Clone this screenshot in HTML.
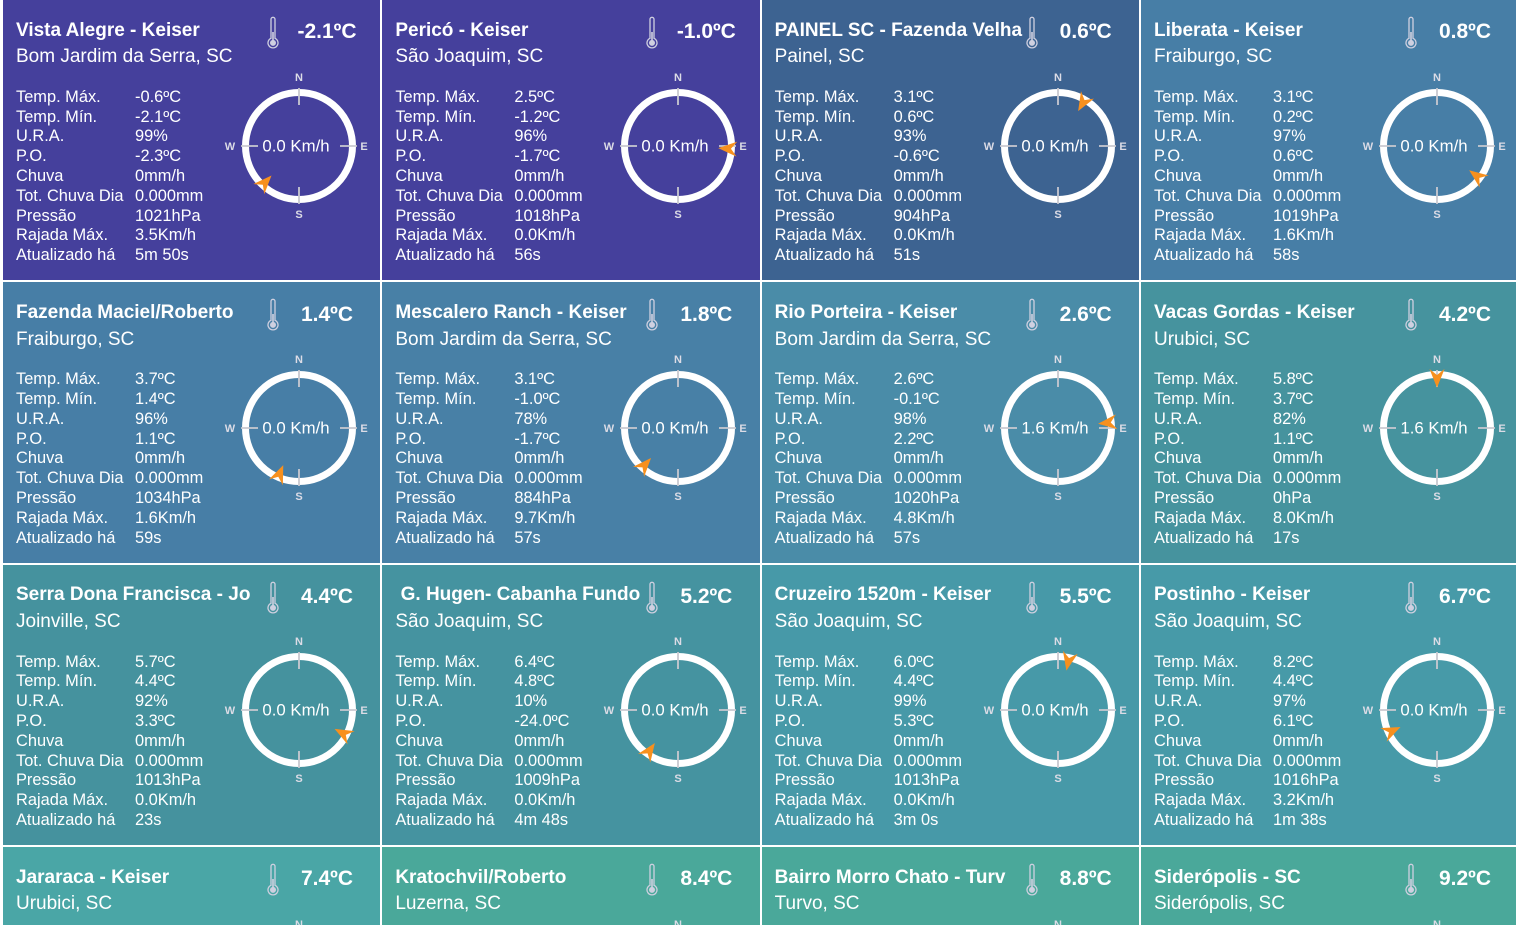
<!DOCTYPE html>
<html><head><meta charset="utf-8"><style>
html,body{margin:0;padding:0;width:1516px;height:926px;overflow:hidden;background:#fff;position:relative;}
.card{position:absolute;width:377.33px;height:280.33px;overflow:hidden;color:#fff;font-family:"Liberation Sans",Arial,sans-serif;}
.r4{height:78px;}
.t{position:absolute;left:13px;top:20.6px;font-size:19px;line-height:19px;font-weight:bold;white-space:nowrap;}
.l{position:absolute;left:13px;top:47.2px;font-size:19px;line-height:19px;white-space:nowrap;}
.tp{position:absolute;left:274px;width:100px;text-align:center;top:21.2px;font-size:21px;line-height:21px;font-weight:bold;white-space:nowrap;}
.th{position:absolute;left:262px;top:14px;}
.cp{position:absolute;left:216px;top:65.5px;font-family:"Liberation Sans",Arial,sans-serif;}
.d{position:absolute;left:13px;top:87.9px;font-size:16.4px;line-height:19.8px;}
.d div{position:relative;height:19.8px;white-space:nowrap;width:200px;}
.d span+span{position:absolute;left:119px;top:0;}
</style></head><body>

<!-- Row 1 -->
<div class="card" style="left:3px;top:0px;background:#45409c">
<div class="t">Vista Alegre - Keiser</div><div class="l">Bom Jardim da Serra, SC</div>
<svg class="th" width="16" height="36" viewBox="0 0 16 36"><path d="M6,24.3V5.3A2,2 0 0 1 10,5.3V24.3A5,5 0 1 1 6,24.3Z" fill="none" stroke="#cfd0e0" stroke-width="1.3"/><circle cx="8" cy="28.9" r="3" fill="#cfd0e0"/><rect x="7.2" y="18" width="1.6" height="10" fill="#cfd0e0"/></svg>
<div class="tp">-2.1ºC</div>
<div class="d"><div><span>Temp. Máx.</span><span>-0.6ºC</span></div><div><span>Temp. Mín.</span><span>-2.1ºC</span></div><div><span>U.R.A.</span><span>99%</span></div><div><span>P.O.</span><span>-2.3ºC</span></div><div><span>Chuva</span><span>0mm/h</span></div><div><span>Tot. Chuva Dia</span><span>0.000mm</span></div><div><span>Pressão</span><span>1021hPa</span></div><div><span>Rajada Máx.</span><span>3.5Km/h</span></div><div><span>Atualizado há</span><span>5m 50s</span></div></div>
<svg class="cp" width="160" height="160" viewBox="0 0 160 160"><circle cx="80" cy="80" r="53.5" fill="none" stroke="#fff" stroke-width="7"/><path d="M80 22V39M80 121V138M22 80H39M121 80H138" stroke="#c9c9d0" stroke-width="1.8"/><path d="M0,-12.7L7.5,6L0,0L-7.5,6Z" fill="#f7901e" transform="rotate(223 80 80) translate(80 27) rotate(180)"/><g font-size="11" font-weight="bold" fill="#dcdce6" text-anchor="middle"><text x="80" y="15.2">N</text><text x="80" y="151.8">S</text><text x="11" y="84.2">W</text><text x="145" y="84.2">E</text></g><text x="77" y="85.5" font-size="16.8" fill="#fff" text-anchor="middle">0.0 Km/h</text></svg>
</div>

<div class="card" style="left:382.33px;top:0px;background:#45409c">
<div class="t">Pericó - Keiser</div><div class="l">São Joaquim, SC</div>
<svg class="th" width="16" height="36" viewBox="0 0 16 36"><path d="M6,24.3V5.3A2,2 0 0 1 10,5.3V24.3A5,5 0 1 1 6,24.3Z" fill="none" stroke="#cfd0e0" stroke-width="1.3"/><circle cx="8" cy="28.9" r="3" fill="#cfd0e0"/><rect x="7.2" y="18" width="1.6" height="10" fill="#cfd0e0"/></svg>
<div class="tp">-1.0ºC</div>
<div class="d"><div><span>Temp. Máx.</span><span>2.5ºC</span></div><div><span>Temp. Mín.</span><span>-1.2ºC</span></div><div><span>U.R.A.</span><span>96%</span></div><div><span>P.O.</span><span>-1.7ºC</span></div><div><span>Chuva</span><span>0mm/h</span></div><div><span>Tot. Chuva Dia</span><span>0.000mm</span></div><div><span>Pressão</span><span>1018hPa</span></div><div><span>Rajada Máx.</span><span>0.0Km/h</span></div><div><span>Atualizado há</span><span>56s</span></div></div>
<svg class="cp" width="160" height="160" viewBox="0 0 160 160"><circle cx="80" cy="80" r="53.5" fill="none" stroke="#fff" stroke-width="7"/><path d="M80 22V39M80 121V138M22 80H39M121 80H138" stroke="#c9c9d0" stroke-width="1.8"/><path d="M0,-12.7L7.5,6L0,0L-7.5,6Z" fill="#f7901e" transform="rotate(93 80 80) translate(80 27) rotate(180)"/><g font-size="11" font-weight="bold" fill="#dcdce6" text-anchor="middle"><text x="80" y="15.2">N</text><text x="80" y="151.8">S</text><text x="11" y="84.2">W</text><text x="145" y="84.2">E</text></g><text x="77" y="85.5" font-size="16.8" fill="#fff" text-anchor="middle">0.0 Km/h</text></svg>
</div>

<div class="card" style="left:761.67px;top:0px;background:#3d6391">
<div class="t">PAINEL SC - Fazenda Velha</div><div class="l">Painel, SC</div>
<svg class="th" width="16" height="36" viewBox="0 0 16 36"><path d="M6,24.3V5.3A2,2 0 0 1 10,5.3V24.3A5,5 0 1 1 6,24.3Z" fill="none" stroke="#cfd0e0" stroke-width="1.3"/><circle cx="8" cy="28.9" r="3" fill="#cfd0e0"/><rect x="7.2" y="18" width="1.6" height="10" fill="#cfd0e0"/></svg>
<div class="tp">0.6ºC</div>
<div class="d"><div><span>Temp. Máx.</span><span>3.1ºC</span></div><div><span>Temp. Mín.</span><span>0.6ºC</span></div><div><span>U.R.A.</span><span>93%</span></div><div><span>P.O.</span><span>-0.6ºC</span></div><div><span>Chuva</span><span>0mm/h</span></div><div><span>Tot. Chuva Dia</span><span>0.000mm</span></div><div><span>Pressão</span><span>904hPa</span></div><div><span>Rajada Máx.</span><span>0.0Km/h</span></div><div><span>Atualizado há</span><span>51s</span></div></div>
<svg class="cp" width="160" height="160" viewBox="0 0 160 160"><circle cx="80" cy="80" r="53.5" fill="none" stroke="#fff" stroke-width="7"/><path d="M80 22V39M80 121V138M22 80H39M121 80H138" stroke="#c9c9d0" stroke-width="1.8"/><path d="M0,-12.7L7.5,6L0,0L-7.5,6Z" fill="#f7901e" transform="rotate(30 80 80) translate(80 27) rotate(180)"/><g font-size="11" font-weight="bold" fill="#dcdce6" text-anchor="middle"><text x="80" y="15.2">N</text><text x="80" y="151.8">S</text><text x="11" y="84.2">W</text><text x="145" y="84.2">E</text></g><text x="77" y="85.5" font-size="16.8" fill="#fff" text-anchor="middle">0.0 Km/h</text></svg>
</div>

<div class="card" style="left:1141px;top:0px;background:#477ea6">
<div class="t">Liberata - Keiser</div><div class="l">Fraiburgo, SC</div>
<svg class="th" width="16" height="36" viewBox="0 0 16 36"><path d="M6,24.3V5.3A2,2 0 0 1 10,5.3V24.3A5,5 0 1 1 6,24.3Z" fill="none" stroke="#cfd0e0" stroke-width="1.3"/><circle cx="8" cy="28.9" r="3" fill="#cfd0e0"/><rect x="7.2" y="18" width="1.6" height="10" fill="#cfd0e0"/></svg>
<div class="tp">0.8ºC</div>
<div class="d"><div><span>Temp. Máx.</span><span>3.1ºC</span></div><div><span>Temp. Mín.</span><span>0.2ºC</span></div><div><span>U.R.A.</span><span>97%</span></div><div><span>P.O.</span><span>0.6ºC</span></div><div><span>Chuva</span><span>0mm/h</span></div><div><span>Tot. Chuva Dia</span><span>0.000mm</span></div><div><span>Pressão</span><span>1019hPa</span></div><div><span>Rajada Máx.</span><span>1.6Km/h</span></div><div><span>Atualizado há</span><span>58s</span></div></div>
<svg class="cp" width="160" height="160" viewBox="0 0 160 160"><circle cx="80" cy="80" r="53.5" fill="none" stroke="#fff" stroke-width="7"/><path d="M80 22V39M80 121V138M22 80H39M121 80H138" stroke="#c9c9d0" stroke-width="1.8"/><path d="M0,-12.7L7.5,6L0,0L-7.5,6Z" fill="#f7901e" transform="rotate(127 80 80) translate(80 27) rotate(180)"/><g font-size="11" font-weight="bold" fill="#dcdce6" text-anchor="middle"><text x="80" y="15.2">N</text><text x="80" y="151.8">S</text><text x="11" y="84.2">W</text><text x="145" y="84.2">E</text></g><text x="77" y="85.5" font-size="16.8" fill="#fff" text-anchor="middle">0.0 Km/h</text></svg>
</div>

<!-- Row 2 -->
<div class="card" style="left:3px;top:282.33px;background:#477ea6">
<div class="t">Fazenda Maciel/Roberto</div><div class="l">Fraiburgo, SC</div>
<svg class="th" width="16" height="36" viewBox="0 0 16 36"><path d="M6,24.3V5.3A2,2 0 0 1 10,5.3V24.3A5,5 0 1 1 6,24.3Z" fill="none" stroke="#cfd0e0" stroke-width="1.3"/><circle cx="8" cy="28.9" r="3" fill="#cfd0e0"/><rect x="7.2" y="18" width="1.6" height="10" fill="#cfd0e0"/></svg>
<div class="tp">1.4ºC</div>
<div class="d"><div><span>Temp. Máx.</span><span>3.7ºC</span></div><div><span>Temp. Mín.</span><span>1.4ºC</span></div><div><span>U.R.A.</span><span>96%</span></div><div><span>P.O.</span><span>1.1ºC</span></div><div><span>Chuva</span><span>0mm/h</span></div><div><span>Tot. Chuva Dia</span><span>0.000mm</span></div><div><span>Pressão</span><span>1034hPa</span></div><div><span>Rajada Máx.</span><span>1.6Km/h</span></div><div><span>Atualizado há</span><span>59s</span></div></div>
<svg class="cp" width="160" height="160" viewBox="0 0 160 160"><circle cx="80" cy="80" r="53.5" fill="none" stroke="#fff" stroke-width="7"/><path d="M80 22V39M80 121V138M22 80H39M121 80H138" stroke="#c9c9d0" stroke-width="1.8"/><path d="M0,-12.7L7.5,6L0,0L-7.5,6Z" fill="#f7901e" transform="rotate(203 80 80) translate(80 27) rotate(180)"/><g font-size="11" font-weight="bold" fill="#dcdce6" text-anchor="middle"><text x="80" y="15.2">N</text><text x="80" y="151.8">S</text><text x="11" y="84.2">W</text><text x="145" y="84.2">E</text></g><text x="77" y="85.5" font-size="16.8" fill="#fff" text-anchor="middle">0.0 Km/h</text></svg>
</div>

<div class="card" style="left:382.33px;top:282.33px;background:#4880a6">
<div class="t">Mescalero Ranch - Keiser</div><div class="l">Bom Jardim da Serra, SC</div>
<svg class="th" width="16" height="36" viewBox="0 0 16 36"><path d="M6,24.3V5.3A2,2 0 0 1 10,5.3V24.3A5,5 0 1 1 6,24.3Z" fill="none" stroke="#cfd0e0" stroke-width="1.3"/><circle cx="8" cy="28.9" r="3" fill="#cfd0e0"/><rect x="7.2" y="18" width="1.6" height="10" fill="#cfd0e0"/></svg>
<div class="tp">1.8ºC</div>
<div class="d"><div><span>Temp. Máx.</span><span>3.1ºC</span></div><div><span>Temp. Mín.</span><span>-1.0ºC</span></div><div><span>U.R.A.</span><span>78%</span></div><div><span>P.O.</span><span>-1.7ºC</span></div><div><span>Chuva</span><span>0mm/h</span></div><div><span>Tot. Chuva Dia</span><span>0.000mm</span></div><div><span>Pressão</span><span>884hPa</span></div><div><span>Rajada Máx.</span><span>9.7Km/h</span></div><div><span>Atualizado há</span><span>57s</span></div></div>
<svg class="cp" width="160" height="160" viewBox="0 0 160 160"><circle cx="80" cy="80" r="53.5" fill="none" stroke="#fff" stroke-width="7"/><path d="M80 22V39M80 121V138M22 80H39M121 80H138" stroke="#c9c9d0" stroke-width="1.8"/><path d="M0,-12.7L7.5,6L0,0L-7.5,6Z" fill="#f7901e" transform="rotate(222 80 80) translate(80 27) rotate(180)"/><g font-size="11" font-weight="bold" fill="#dcdce6" text-anchor="middle"><text x="80" y="15.2">N</text><text x="80" y="151.8">S</text><text x="11" y="84.2">W</text><text x="145" y="84.2">E</text></g><text x="77" y="85.5" font-size="16.8" fill="#fff" text-anchor="middle">0.0 Km/h</text></svg>
</div>

<div class="card" style="left:761.67px;top:282.33px;background:#4a8ca8">
<div class="t">Rio Porteira - Keiser</div><div class="l">Bom Jardim da Serra, SC</div>
<svg class="th" width="16" height="36" viewBox="0 0 16 36"><path d="M6,24.3V5.3A2,2 0 0 1 10,5.3V24.3A5,5 0 1 1 6,24.3Z" fill="none" stroke="#cfd0e0" stroke-width="1.3"/><circle cx="8" cy="28.9" r="3" fill="#cfd0e0"/><rect x="7.2" y="18" width="1.6" height="10" fill="#cfd0e0"/></svg>
<div class="tp">2.6ºC</div>
<div class="d"><div><span>Temp. Máx.</span><span>2.6ºC</span></div><div><span>Temp. Mín.</span><span>-0.1ºC</span></div><div><span>U.R.A.</span><span>98%</span></div><div><span>P.O.</span><span>2.2ºC</span></div><div><span>Chuva</span><span>0mm/h</span></div><div><span>Tot. Chuva Dia</span><span>0.000mm</span></div><div><span>Pressão</span><span>1020hPa</span></div><div><span>Rajada Máx.</span><span>4.8Km/h</span></div><div><span>Atualizado há</span><span>57s</span></div></div>
<svg class="cp" width="160" height="160" viewBox="0 0 160 160"><circle cx="80" cy="80" r="53.5" fill="none" stroke="#fff" stroke-width="7"/><path d="M80 22V39M80 121V138M22 80H39M121 80H138" stroke="#c9c9d0" stroke-width="1.8"/><path d="M0,-12.7L7.5,6L0,0L-7.5,6Z" fill="#f7901e" transform="rotate(84 80 80) translate(80 27) rotate(180)"/><g font-size="11" font-weight="bold" fill="#dcdce6" text-anchor="middle"><text x="80" y="15.2">N</text><text x="80" y="151.8">S</text><text x="11" y="84.2">W</text><text x="145" y="84.2">E</text></g><text x="77" y="85.5" font-size="16.8" fill="#fff" text-anchor="middle">1.6 Km/h</text></svg>
</div>

<div class="card" style="left:1141px;top:282.33px;background:#46939e">
<div class="t">Vacas Gordas - Keiser</div><div class="l">Urubici, SC</div>
<svg class="th" width="16" height="36" viewBox="0 0 16 36"><path d="M6,24.3V5.3A2,2 0 0 1 10,5.3V24.3A5,5 0 1 1 6,24.3Z" fill="none" stroke="#cfd0e0" stroke-width="1.3"/><circle cx="8" cy="28.9" r="3" fill="#cfd0e0"/><rect x="7.2" y="18" width="1.6" height="10" fill="#cfd0e0"/></svg>
<div class="tp">4.2ºC</div>
<div class="d"><div><span>Temp. Máx.</span><span>5.8ºC</span></div><div><span>Temp. Mín.</span><span>3.7ºC</span></div><div><span>U.R.A.</span><span>82%</span></div><div><span>P.O.</span><span>1.1ºC</span></div><div><span>Chuva</span><span>0mm/h</span></div><div><span>Tot. Chuva Dia</span><span>0.000mm</span></div><div><span>Pressão</span><span>0hPa</span></div><div><span>Rajada Máx.</span><span>8.0Km/h</span></div><div><span>Atualizado há</span><span>17s</span></div></div>
<svg class="cp" width="160" height="160" viewBox="0 0 160 160"><circle cx="80" cy="80" r="53.5" fill="none" stroke="#fff" stroke-width="7"/><path d="M80 22V39M80 121V138M22 80H39M121 80H138" stroke="#c9c9d0" stroke-width="1.8"/><path d="M0,-12.7L7.5,6L0,0L-7.5,6Z" fill="#f7901e" transform="rotate(0 80 80) translate(80 27) rotate(180)"/><g font-size="11" font-weight="bold" fill="#dcdce6" text-anchor="middle"><text x="80" y="15.2">N</text><text x="80" y="151.8">S</text><text x="11" y="84.2">W</text><text x="145" y="84.2">E</text></g><text x="77" y="85.5" font-size="16.8" fill="#fff" text-anchor="middle">1.6 Km/h</text></svg>
</div>

<!-- Row 3 -->
<div class="card" style="left:3px;top:564.67px;background:#45929e">
<div class="t">Serra Dona Francisca - Jo</div><div class="l">Joinville, SC</div>
<svg class="th" width="16" height="36" viewBox="0 0 16 36"><path d="M6,24.3V5.3A2,2 0 0 1 10,5.3V24.3A5,5 0 1 1 6,24.3Z" fill="none" stroke="#cfd0e0" stroke-width="1.3"/><circle cx="8" cy="28.9" r="3" fill="#cfd0e0"/><rect x="7.2" y="18" width="1.6" height="10" fill="#cfd0e0"/></svg>
<div class="tp">4.4ºC</div>
<div class="d"><div><span>Temp. Máx.</span><span>5.7ºC</span></div><div><span>Temp. Mín.</span><span>4.4ºC</span></div><div><span>U.R.A.</span><span>92%</span></div><div><span>P.O.</span><span>3.3ºC</span></div><div><span>Chuva</span><span>0mm/h</span></div><div><span>Tot. Chuva Dia</span><span>0.000mm</span></div><div><span>Pressão</span><span>1013hPa</span></div><div><span>Rajada Máx.</span><span>0.0Km/h</span></div><div><span>Atualizado há</span><span>23s</span></div></div>
<svg class="cp" width="160" height="160" viewBox="0 0 160 160"><circle cx="80" cy="80" r="53.5" fill="none" stroke="#fff" stroke-width="7"/><path d="M80 22V39M80 121V138M22 80H39M121 80H138" stroke="#c9c9d0" stroke-width="1.8"/><path d="M0,-12.7L7.5,6L0,0L-7.5,6Z" fill="#f7901e" transform="rotate(118 80 80) translate(80 27) rotate(180)"/><g font-size="11" font-weight="bold" fill="#dcdce6" text-anchor="middle"><text x="80" y="15.2">N</text><text x="80" y="151.8">S</text><text x="11" y="84.2">W</text><text x="145" y="84.2">E</text></g><text x="77" y="85.5" font-size="16.8" fill="#fff" text-anchor="middle">0.0 Km/h</text></svg>
</div>

<div class="card" style="left:382.33px;top:564.67px;background:#4593a0">
<div class="t">&nbsp;G. Hugen- Cabanha Fundo</div><div class="l">São Joaquim, SC</div>
<svg class="th" width="16" height="36" viewBox="0 0 16 36"><path d="M6,24.3V5.3A2,2 0 0 1 10,5.3V24.3A5,5 0 1 1 6,24.3Z" fill="none" stroke="#cfd0e0" stroke-width="1.3"/><circle cx="8" cy="28.9" r="3" fill="#cfd0e0"/><rect x="7.2" y="18" width="1.6" height="10" fill="#cfd0e0"/></svg>
<div class="tp">5.2ºC</div>
<div class="d"><div><span>Temp. Máx.</span><span>6.4ºC</span></div><div><span>Temp. Mín.</span><span>4.8ºC</span></div><div><span>U.R.A.</span><span>10%</span></div><div><span>P.O.</span><span>-24.0ºC</span></div><div><span>Chuva</span><span>0mm/h</span></div><div><span>Tot. Chuva Dia</span><span>0.000mm</span></div><div><span>Pressão</span><span>1009hPa</span></div><div><span>Rajada Máx.</span><span>0.0Km/h</span></div><div><span>Atualizado há</span><span>4m 48s</span></div></div>
<svg class="cp" width="160" height="160" viewBox="0 0 160 160"><circle cx="80" cy="80" r="53.5" fill="none" stroke="#fff" stroke-width="7"/><path d="M80 22V39M80 121V138M22 80H39M121 80H138" stroke="#c9c9d0" stroke-width="1.8"/><path d="M0,-12.7L7.5,6L0,0L-7.5,6Z" fill="#f7901e" transform="rotate(215 80 80) translate(80 27) rotate(180)"/><g font-size="11" font-weight="bold" fill="#dcdce6" text-anchor="middle"><text x="80" y="15.2">N</text><text x="80" y="151.8">S</text><text x="11" y="84.2">W</text><text x="145" y="84.2">E</text></g><text x="77" y="85.5" font-size="16.8" fill="#fff" text-anchor="middle">0.0 Km/h</text></svg>
</div>

<div class="card" style="left:761.67px;top:564.67px;background:#4799a8">
<div class="t">Cruzeiro 1520m - Keiser</div><div class="l">São Joaquim, SC</div>
<svg class="th" width="16" height="36" viewBox="0 0 16 36"><path d="M6,24.3V5.3A2,2 0 0 1 10,5.3V24.3A5,5 0 1 1 6,24.3Z" fill="none" stroke="#cfd0e0" stroke-width="1.3"/><circle cx="8" cy="28.9" r="3" fill="#cfd0e0"/><rect x="7.2" y="18" width="1.6" height="10" fill="#cfd0e0"/></svg>
<div class="tp">5.5ºC</div>
<div class="d"><div><span>Temp. Máx.</span><span>6.0ºC</span></div><div><span>Temp. Mín.</span><span>4.4ºC</span></div><div><span>U.R.A.</span><span>99%</span></div><div><span>P.O.</span><span>5.3ºC</span></div><div><span>Chuva</span><span>0mm/h</span></div><div><span>Tot. Chuva Dia</span><span>0.000mm</span></div><div><span>Pressão</span><span>1013hPa</span></div><div><span>Rajada Máx.</span><span>0.0Km/h</span></div><div><span>Atualizado há</span><span>3m 0s</span></div></div>
<svg class="cp" width="160" height="160" viewBox="0 0 160 160"><circle cx="80" cy="80" r="53.5" fill="none" stroke="#fff" stroke-width="7"/><path d="M80 22V39M80 121V138M22 80H39M121 80H138" stroke="#c9c9d0" stroke-width="1.8"/><path d="M0,-12.7L7.5,6L0,0L-7.5,6Z" fill="#f7901e" transform="rotate(12 80 80) translate(80 27) rotate(180)"/><g font-size="11" font-weight="bold" fill="#dcdce6" text-anchor="middle"><text x="80" y="15.2">N</text><text x="80" y="151.8">S</text><text x="11" y="84.2">W</text><text x="145" y="84.2">E</text></g><text x="77" y="85.5" font-size="16.8" fill="#fff" text-anchor="middle">0.0 Km/h</text></svg>
</div>

<div class="card" style="left:1141px;top:564.67px;background:#479aa8">
<div class="t">Postinho - Keiser</div><div class="l">São Joaquim, SC</div>
<svg class="th" width="16" height="36" viewBox="0 0 16 36"><path d="M6,24.3V5.3A2,2 0 0 1 10,5.3V24.3A5,5 0 1 1 6,24.3Z" fill="none" stroke="#cfd0e0" stroke-width="1.3"/><circle cx="8" cy="28.9" r="3" fill="#cfd0e0"/><rect x="7.2" y="18" width="1.6" height="10" fill="#cfd0e0"/></svg>
<div class="tp">6.7ºC</div>
<div class="d"><div><span>Temp. Máx.</span><span>8.2ºC</span></div><div><span>Temp. Mín.</span><span>4.4ºC</span></div><div><span>U.R.A.</span><span>97%</span></div><div><span>P.O.</span><span>6.1ºC</span></div><div><span>Chuva</span><span>0mm/h</span></div><div><span>Tot. Chuva Dia</span><span>0.000mm</span></div><div><span>Pressão</span><span>1016hPa</span></div><div><span>Rajada Máx.</span><span>3.2Km/h</span></div><div><span>Atualizado há</span><span>1m 38s</span></div></div>
<svg class="cp" width="160" height="160" viewBox="0 0 160 160"><circle cx="80" cy="80" r="53.5" fill="none" stroke="#fff" stroke-width="7"/><path d="M80 22V39M80 121V138M22 80H39M121 80H138" stroke="#c9c9d0" stroke-width="1.8"/><path d="M0,-12.7L7.5,6L0,0L-7.5,6Z" fill="#f7901e" transform="rotate(245 80 80) translate(80 27) rotate(180)"/><g font-size="11" font-weight="bold" fill="#dcdce6" text-anchor="middle"><text x="80" y="15.2">N</text><text x="80" y="151.8">S</text><text x="11" y="84.2">W</text><text x="145" y="84.2">E</text></g><text x="77" y="85.5" font-size="16.8" fill="#fff" text-anchor="middle">0.0 Km/h</text></svg>
</div>

<!-- Row 4 -->
<div class="card r4" style="left:3px;top:847px;background:#4aa6a6">
<div class="t">Jararaca - Keiser</div><div class="l">Urubici, SC</div>
<svg class="th" width="16" height="36" viewBox="0 0 16 36"><path d="M6,24.3V5.3A2,2 0 0 1 10,5.3V24.3A5,5 0 1 1 6,24.3Z" fill="none" stroke="#cfd0e0" stroke-width="1.3"/><circle cx="8" cy="28.9" r="3" fill="#cfd0e0"/><rect x="7.2" y="18" width="1.6" height="10" fill="#cfd0e0"/></svg>
<div class="tp">7.4ºC</div>
<svg class="cp" width="160" height="12" viewBox="0 0 160 12"><text x="80" y="15.2" font-size="11" font-weight="bold" fill="#dcdce6" text-anchor="middle">N</text></svg>
</div>

<div class="card r4" style="left:382.33px;top:847px;background:#4aa89a">
<div class="t">Kratochvil/Roberto</div><div class="l">Luzerna, SC</div>
<svg class="th" width="16" height="36" viewBox="0 0 16 36"><path d="M6,24.3V5.3A2,2 0 0 1 10,5.3V24.3A5,5 0 1 1 6,24.3Z" fill="none" stroke="#cfd0e0" stroke-width="1.3"/><circle cx="8" cy="28.9" r="3" fill="#cfd0e0"/><rect x="7.2" y="18" width="1.6" height="10" fill="#cfd0e0"/></svg>
<div class="tp">8.4ºC</div>
<svg class="cp" width="160" height="12" viewBox="0 0 160 12"><text x="80" y="15.2" font-size="11" font-weight="bold" fill="#dcdce6" text-anchor="middle">N</text></svg>
</div>

<div class="card r4" style="left:761.67px;top:847px;background:#4aa89a">
<div class="t">Bairro Morro Chato - Turv</div><div class="l">Turvo, SC</div>
<svg class="th" width="16" height="36" viewBox="0 0 16 36"><path d="M6,24.3V5.3A2,2 0 0 1 10,5.3V24.3A5,5 0 1 1 6,24.3Z" fill="none" stroke="#cfd0e0" stroke-width="1.3"/><circle cx="8" cy="28.9" r="3" fill="#cfd0e0"/><rect x="7.2" y="18" width="1.6" height="10" fill="#cfd0e0"/></svg>
<div class="tp">8.8ºC</div>
<svg class="cp" width="160" height="12" viewBox="0 0 160 12"><text x="80" y="15.2" font-size="11" font-weight="bold" fill="#dcdce6" text-anchor="middle">N</text></svg>
</div>

<div class="card r4" style="left:1141px;top:847px;background:#4aa89a">
<div class="t">Siderópolis - SC</div><div class="l">Siderópolis, SC</div>
<svg class="th" width="16" height="36" viewBox="0 0 16 36"><path d="M6,24.3V5.3A2,2 0 0 1 10,5.3V24.3A5,5 0 1 1 6,24.3Z" fill="none" stroke="#cfd0e0" stroke-width="1.3"/><circle cx="8" cy="28.9" r="3" fill="#cfd0e0"/><rect x="7.2" y="18" width="1.6" height="10" fill="#cfd0e0"/></svg>
<div class="tp">9.2ºC</div>
<svg class="cp" width="160" height="12" viewBox="0 0 160 12"><text x="80" y="15.2" font-size="11" font-weight="bold" fill="#dcdce6" text-anchor="middle">N</text></svg>
</div>

</body></html>
